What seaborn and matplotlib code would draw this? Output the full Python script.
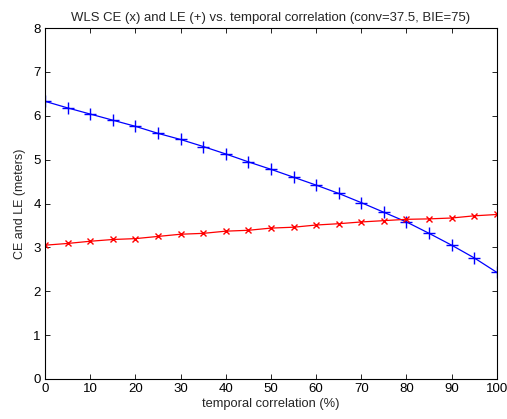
import matplotlib
matplotlib.use("Agg")
import matplotlib.pyplot as plt
import numpy as np
import pandas as pd
import seaborn as sns

# temporal correlation (%)
corr = [0, 5, 10, 15, 20, 25, 30, 35, 40, 45, 50, 55, 60, 65, 70, 75, 80, 85, 90, 95, 100]
# LE (+), blue
le = [6.33, 6.18, 6.04, 5.90, 5.76, 5.60, 5.46, 5.30, 5.13, 4.95, 4.78,
      4.60, 4.42, 4.23, 4.02, 3.80, 3.58, 3.32, 3.05, 2.76, 2.43]
# CE (x), red
ce = [3.05, 3.09, 3.14, 3.18, 3.20, 3.25, 3.30, 3.32, 3.37, 3.39, 3.44,
      3.46, 3.51, 3.54, 3.58, 3.61, 3.64, 3.65, 3.67, 3.72, 3.75]

xticks = list(range(0, 101, 10))
yticks = list(range(0, 9))


def main():
    sns.set_style("ticks")
    plt.rcParams["font.family"] = ["Liberation Sans", "DejaVu Sans"]
    plt.rcParams["xtick.direction"] = "in"
    plt.rcParams["ytick.direction"] = "in"

    df = pd.DataFrame({"corr": corr, "le": le, "ce": ce})

    fig = plt.figure(figsize=(5.07, 4.19), dpi=100)
    ax = fig.add_axes([0.0888, 0.0955, 0.8912, 0.8375])

    sns.lineplot(data=df, x="corr", y="le", color="blue", marker="+",
                 markersize=8, markeredgewidth=1, markeredgecolor="blue",
                 linewidth=0.9, ax=ax)
    sns.lineplot(data=df, x="corr", y="ce", color="red", marker="x",
                 markersize=4.5, markeredgewidth=1, markeredgecolor="red",
                 linewidth=0.9, ax=ax)

    ax.set_xlim(0, 100)
    ax.set_ylim(0, 8)
    ax.set_xticks(xticks)
    ax.set_yticks(yticks)
    ax.tick_params(top=True, right=True, length=3.5, width=0.6, labelsize=9.5,
                   color="black", labelcolor="black", pad=3)
    for s in ax.spines.values():
        s.set_visible(True)
        s.set_color("black")
        s.set_linewidth(0.8)

    ax.set_xlabel("temporal correlation (%)", fontsize=9.3, labelpad=2)
    ax.set_ylabel("CE and LE (meters)", fontsize=9, labelpad=5)
    ax.set_title("WLS CE (x) and LE (+) vs. temporal correlation (conv=37.5, BIE=75)",
                 fontsize=9.45, pad=5)

    fig.savefig("out.png", dpi=100)


if __name__ == "__main__":
    main()
